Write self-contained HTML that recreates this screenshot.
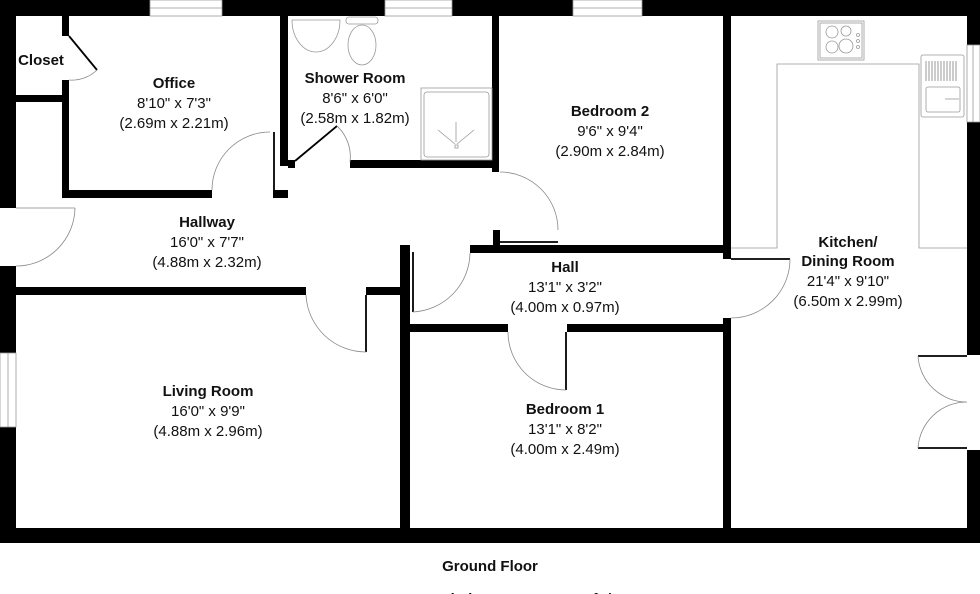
<!DOCTYPE html>
<html><head><meta charset="utf-8"><style>
html,body{margin:0;padding:0;background:#fff;}
svg{display:block;}
text{font-family:"Liberation Sans",Arial,sans-serif;fill:#111;}
.b{font-weight:bold;font-size:15px;}
.n{font-size:15px;}
</style></head><body>
<svg width="980" height="594" viewBox="0 0 980 594" xmlns="http://www.w3.org/2000/svg">
<g fill="#000">
<rect x="0" y="0" width="980" height="16"/>
<rect x="0" y="0" width="16" height="208"/>
<rect x="0" y="266" width="16" height="87"/>
<rect x="0" y="427" width="16" height="116"/>
<rect x="0" y="528" width="980" height="15"/>
<rect x="967" y="0" width="13" height="45"/>
<rect x="967" y="122" width="13" height="233"/>
<rect x="967" y="450" width="13" height="93"/>
<rect x="62" y="16" width="7" height="20"/>
<rect x="62" y="80" width="7" height="117"/>
<rect x="16" y="95" width="50" height="7"/>
<rect x="62" y="190" width="150" height="8"/>
<rect x="273" y="190" width="15" height="8"/>
<rect x="280" y="16" width="8" height="150"/>
<rect x="288" y="160" width="7" height="8"/>
<rect x="350" y="160" width="149" height="8"/>
<rect x="492" y="16" width="7" height="156"/>
<rect x="493" y="230" width="7" height="23"/>
<rect x="470" y="245" width="261" height="8"/>
<rect x="723" y="16" width="8" height="243"/>
<rect x="723" y="318" width="8" height="215"/>
<rect x="16" y="287" width="290" height="8"/>
<rect x="366" y="287" width="40" height="8"/>
<rect x="400" y="245" width="10" height="290"/>
<rect x="405" y="324" width="103" height="8"/>
<rect x="567" y="324" width="160" height="8"/>
</g>
<g fill="#fff" stroke="#999" stroke-width="0.8">
<rect x="150" y="0" width="72" height="16"/>
<rect x="385" y="0" width="67" height="16"/>
<rect x="573" y="0" width="69" height="16"/>
<rect x="0" y="353" width="16" height="74"/>
<rect x="967" y="45" width="13" height="77"/>
</g>
<g stroke="#999" stroke-width="0.8">
<line x1="150" y1="8" x2="222" y2="8"/><line x1="385" y1="8" x2="452" y2="8"/><line x1="573" y1="8" x2="642" y2="8"/>
<line x1="8" y1="353" x2="8" y2="427"/><line x1="973" y1="45" x2="973" y2="122"/>
</g>
<g fill="none" stroke="#000" stroke-width="1.8">
<line x1="69" y1="36" x2="97" y2="70"/>
<line x1="295" y1="161" x2="337" y2="126"/>
<line x1="274" y1="132" x2="274" y2="190"/>
<line x1="366" y1="295" x2="366" y2="352"/>
<line x1="413" y1="252" x2="413" y2="312"/>
<line x1="500" y1="242" x2="558" y2="242"/>
<line x1="566" y1="332" x2="566" y2="390"/>
<line x1="731" y1="259" x2="790" y2="259"/>
<line x1="918" y1="356" x2="967" y2="356"/>
<line x1="918" y1="448" x2="967" y2="448"/>
</g>
<g fill="none" stroke="#888" stroke-width="0.8">
<path d="M97,70 A36,36 0 0 1 69,80"/>
<path d="M212,190 A58,58 0 0 1 270,132"/>
<path d="M337,126 A42,42 0 0 1 350,162"/>
<line x1="16" y1="208" x2="75" y2="208"/>
<path d="M75,208 A59,59 0 0 1 16,266"/>
<path d="M306,295 A60,60 0 0 0 366,352"/>
<path d="M413,312 A60,60 0 0 0 470,253"/>
<path d="M500,172 A58,58 0 0 1 558,230"/>
<path d="M508,332 A58,58 0 0 0 566,390"/>
<path d="M790,259 A59,59 0 0 1 731,318"/>
<path d="M918,356 A49,49 0 0 0 967,402 M918,448 A49,49 0 0 1 967,402"/>
</g>
<g fill="none" stroke="#999" stroke-width="0.8">
<polyline points="731,248 777,248 777,64 919,64 919,248 967,248"/>
<rect x="818" y="21" width="46" height="39"/>
<rect x="820" y="23" width="42" height="35"/>
<circle cx="832" cy="32" r="6"/><circle cx="846" cy="31" r="5"/><circle cx="832" cy="47" r="6"/><circle cx="846" cy="46" r="7"/>
<circle cx="858" cy="35" r="1.5"/><circle cx="858" cy="41" r="1.5"/><circle cx="858" cy="47" r="1.5"/>
<rect x="921" y="55" width="43" height="62" rx="2"/>
<rect x="926" y="87" width="34" height="25" rx="2"/>
<line x1="945" y1="99" x2="959" y2="99"/>
<rect x="421" y="88" width="71" height="72"/>
<rect x="424" y="92" width="65" height="65" rx="3"/>
<line x1="456" y1="122" x2="456" y2="142"/><line x1="438" y1="130" x2="455" y2="144"/><line x1="474" y1="130" x2="457" y2="144"/>
<rect x="455" y="145" width="3" height="3"/>
<path d="M292,20 L340,20 A24,32 0 0 1 292,20 Z"/>
<rect x="346" y="17" width="32" height="7" rx="3"/>
<ellipse cx="362" cy="45" rx="14" ry="20"/>
</g>
<g stroke="#999" stroke-width="1">
<line x1="926" y1="61" x2="926" y2="81"/><line x1="929" y1="61" x2="929" y2="81"/><line x1="932" y1="61" x2="932" y2="81"/><line x1="935" y1="61" x2="935" y2="81"/><line x1="938" y1="61" x2="938" y2="81"/><line x1="941" y1="61" x2="941" y2="81"/><line x1="944" y1="61" x2="944" y2="81"/><line x1="947" y1="61" x2="947" y2="81"/><line x1="950" y1="61" x2="950" y2="81"/><line x1="953" y1="61" x2="953" y2="81"/><line x1="956" y1="61" x2="956" y2="81"/>
</g>
<g text-anchor="middle">
<text class="b" x="41" y="65" font-size="14">Closet</text>
<text class="b" x="174" y="88">Office</text>
<text class="n" x="174" y="108">8'10" x 7'3"</text>
<text class="n" x="174" y="128">(2.69m x 2.21m)</text>
<text class="b" x="355" y="83">Shower Room</text>
<text class="n" x="355" y="103">8'6" x 6'0"</text>
<text class="n" x="355" y="123">(2.58m x 1.82m)</text>
<text class="b" x="610" y="116">Bedroom 2</text>
<text class="n" x="610" y="136">9'6" x 9'4"</text>
<text class="n" x="610" y="156">(2.90m x 2.84m)</text>
<text class="b" x="207" y="227">Hallway</text>
<text class="n" x="207" y="247">16'0" x 7'7"</text>
<text class="n" x="207" y="267">(4.88m x 2.32m)</text>
<text class="b" x="565" y="272">Hall</text>
<text class="n" x="565" y="292">13'1" x 3'2"</text>
<text class="n" x="565" y="312">(4.00m x 0.97m)</text>
<text class="b" x="848" y="247">Kitchen/</text>
<text class="b" x="848" y="266">Dining Room</text>
<text class="n" x="848" y="286">21'4" x 9'10"</text>
<text class="n" x="848" y="306">(6.50m x 2.99m)</text>
<text class="b" x="208" y="396">Living Room</text>
<text class="n" x="208" y="416">16'0" x 9'9"</text>
<text class="n" x="208" y="436">(4.88m x 2.96m)</text>
<text class="b" x="565" y="414">Bedroom 1</text>
<text class="n" x="565" y="434">13'1" x 8'2"</text>
<text class="n" x="565" y="454">(4.00m x 2.49m)</text>
<text class="b" x="490" y="571">Ground Floor</text>
<text class="b" x="490" y="604" font-size="13">Approx. Gross Internal Floor Area 614 sq. ft / 57.0 sq. m</text>
</g>
</svg>
</body></html>
